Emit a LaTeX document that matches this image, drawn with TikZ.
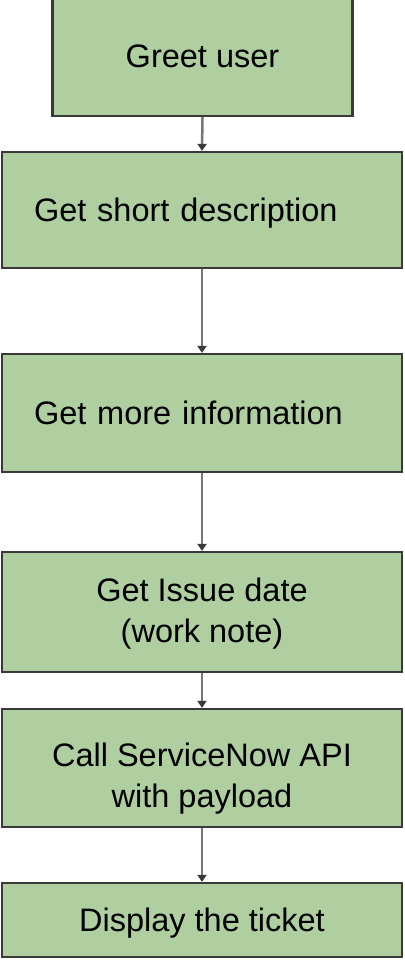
\documentclass[tikz,border=0pt]{standalone}
\usepackage{fontspec}
\setmainfont{Liberation Sans}
\usepackage{xcolor}
\usetikzlibrary{positioning}
\usetikzlibrary{calc,arrows.meta}

\definecolor{boxgreen}{HTML}{B0CFA0}
\definecolor{boxline}{HTML}{3A3A3A}
\definecolor{arrowgray}{HTML}{777777}

\tikzset{
    stepbox/.style={draw=boxline, line width=2.2pt, fill=boxgreen, minimum width=400pt,
        inner sep=0pt, font=\fontsize{32.5}{40.5}\selectfont, align=center,
        text height=23pt, text depth=0pt},
    flow/.style={draw=arrowgray, line width=2.5pt,
        -{Triangle[length=7pt,width=9pt,color=boxline]}}
}

\begin{document}
\begin{tikzpicture}[x=1pt,y=-1pt]
    \useasboundingbox (0,0) rectangle (404,960);
    \clip (0,0) rectangle (404,960);

    % Draw boxes
    \node[stepbox, minimum width=300pt, minimum height=120pt] (greet) at (202.5,56) {Greet user};
    \node[stepbox, minimum height=116pt, text width=336pt, align=left] (short) at (202,210) {Get short description};
    \node[stepbox, minimum height=118pt, text width=336pt, align=left] (more) at (202,413) {Get more information};
    \node[stepbox, minimum height=120pt, text height=67pt, text depth=7pt] (date) at (202,612) {Get Issue date\\(work note)};
    \node[stepbox, minimum height=118pt, text height=85pt, text depth=7pt] (call) at (202,768) {Call ServiceNow API\\with payload};
    \node[stepbox, minimum height=74pt] (show) at (202,920) {Display the ticket};

    % Draw arrows
    \foreach \a/\b in {greet/short, short/more, more/date, date/call, call/show} {
        \draw[flow] (\a.south) -- (\b.north);
    }
\end{tikzpicture}
\end{document}
